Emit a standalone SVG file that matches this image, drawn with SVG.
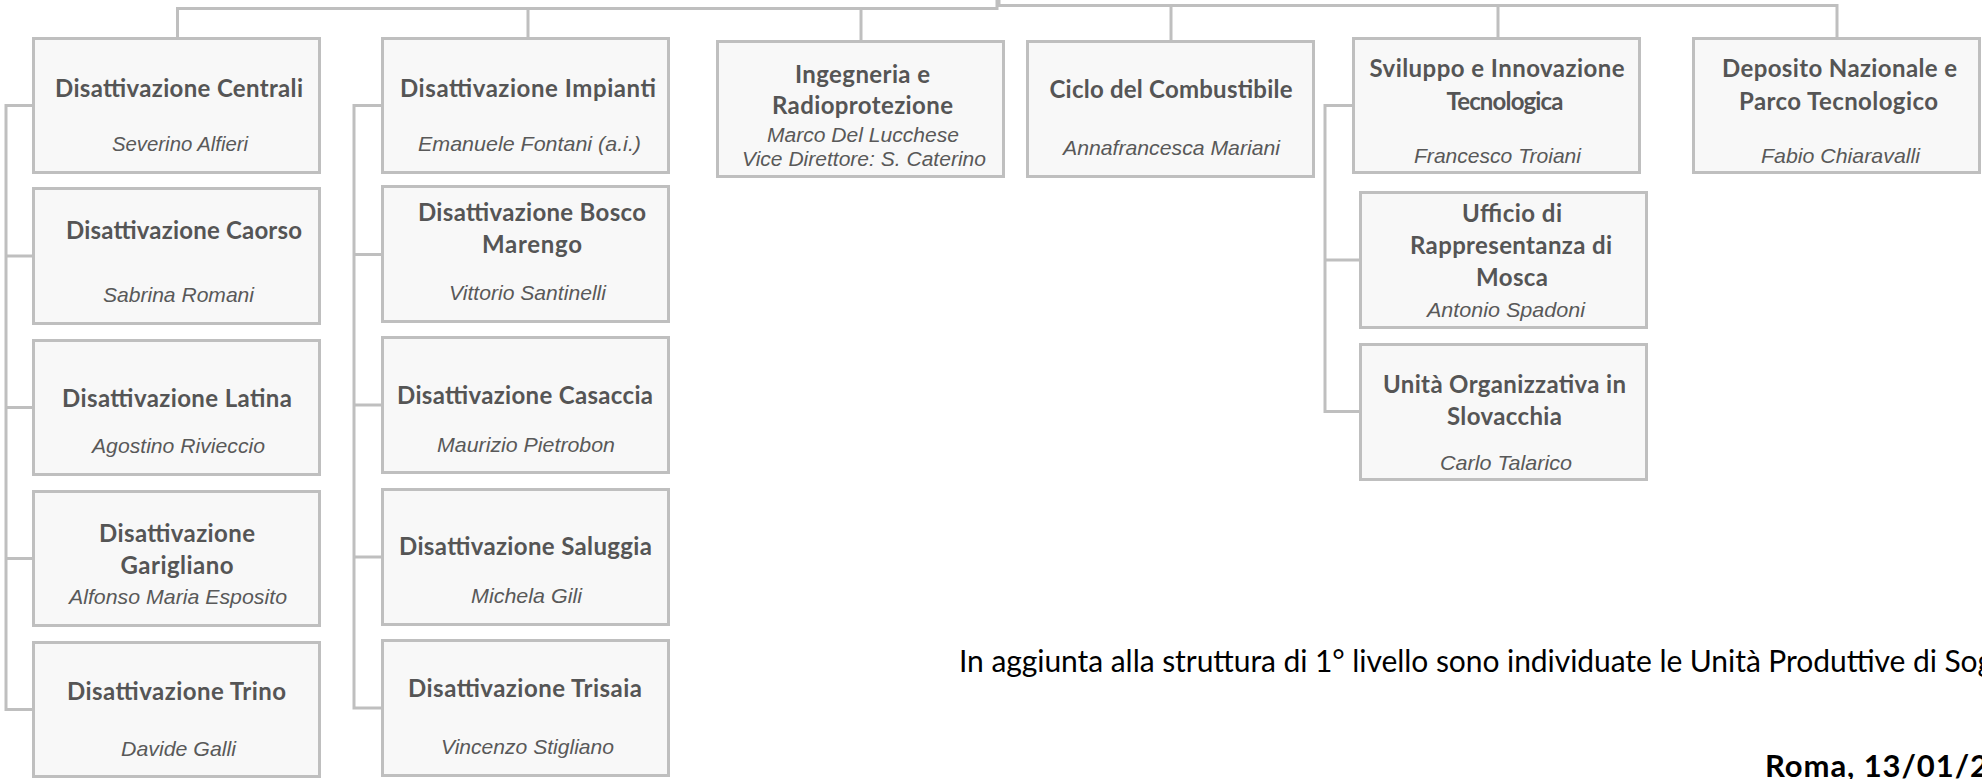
<svg xmlns="http://www.w3.org/2000/svg" width="1982" height="779" viewBox="0 0 1982 779">
<style>
.bg{fill:#ffffff}
.box{fill:#f8f8f8;stroke:#bfbfbf;stroke-width:3}
.conn{fill:none;stroke:#bfbfbf;stroke-width:3}
.t{font-family:Lato,"Liberation Sans",sans-serif;font-weight:bold;font-size:24px;fill:#555555;text-anchor:middle}
.n{font-family:"Liberation Sans",Arial,sans-serif;font-style:italic;font-size:21px;fill:#595959;text-anchor:middle}
.s{font-size:20px}
.body{font-family:Lato,"Liberation Sans",sans-serif;font-size:30px;fill:#000000}
.date{font-family:Lato,"Liberation Sans",sans-serif;font-weight:bold;font-size:31px;fill:#000000}
</style>
<rect class="bg" x="0" y="0" width="1982" height="779"/>
<g id="connectors">
<path class="conn" d="M997,0 V8.5 H177.5 V38"/>
<path class="conn" d="M528,8.5 V38"/>
<path class="conn" d="M861,8.5 V41"/>
<path class="conn" d="M999,0 V5.5 H1837 V38"/>
<path class="conn" d="M1171,5.5 V41"/>
<path class="conn" d="M1498,5.5 V38"/>
<path class="conn" d="M33,105.5 H6 V709.5 H33 M6,256 H33 M6,407.5 H33 M6,558.5 H33"/>
<path class="conn" d="M382,105.5 H354 V708 H382 M354,254.5 H382 M354,405 H382 M354,557 H382"/>
<path class="conn" d="M1353,105.5 H1325 V411.5 H1360 M1325,260 H1360"/>
</g>
<g id="n-centrali"><rect class="box" x="33.5" y="38.5" width="286" height="134"/>
<text class="t" x="179" y="97" textLength="248" lengthAdjust="spacing">Disattivazione Centrali</text>
<text class="n" x="180" y="151" textLength="136" lengthAdjust="spacingAndGlyphs">Severino Alfieri</text></g>
<g id="n-caorso"><rect class="box" x="33.5" y="188.5" width="286" height="135"/>
<text class="t" x="184" y="239" textLength="236" lengthAdjust="spacing">Disattivazione Caorso</text>
<text class="n" x="178.5" y="302" textLength="151" lengthAdjust="spacingAndGlyphs">Sabrina Romani</text></g>
<g id="n-latina"><rect class="box" x="33.5" y="340.5" width="286" height="134"/>
<text class="t" x="177" y="407" textLength="230" lengthAdjust="spacing">Disattivazione Latina</text>
<text class="n" x="178.5" y="453" textLength="173" lengthAdjust="spacingAndGlyphs">Agostino Rivieccio</text></g>
<g id="n-garigliano"><rect class="box" x="33.5" y="491.5" width="286" height="134"/>
<text class="t" x="177" y="542" textLength="156" lengthAdjust="spacing">Disattivazione</text>
<text class="t" x="177" y="574" textLength="113" lengthAdjust="spacing">Garigliano</text>
<text class="n" x="178" y="604" textLength="218" lengthAdjust="spacingAndGlyphs">Alfonso Maria Esposito</text></g>
<g id="n-trino"><rect class="box" x="33.5" y="642.5" width="286" height="134"/>
<text class="t" x="176.5" y="700" textLength="219" lengthAdjust="spacing">Disattivazione Trino</text>
<text class="n" x="178.5" y="756" textLength="115" lengthAdjust="spacingAndGlyphs">Davide Galli</text></g>
<g id="n-impianti"><rect class="box" x="382.5" y="38.5" width="286" height="134"/>
<text class="t" x="528" y="97" textLength="256" lengthAdjust="spacing">Disattivazione Impianti</text>
<text class="n" x="529.5" y="151" textLength="223" lengthAdjust="spacingAndGlyphs">Emanuele Fontani (a.i.)</text></g>
<g id="n-bosco"><rect class="box" x="382.5" y="186.5" width="286" height="135"/>
<text class="t" x="532" y="221" textLength="228" lengthAdjust="spacing">Disattivazione Bosco</text>
<text class="t" x="532" y="253" textLength="100" lengthAdjust="spacing">Marengo</text>
<text class="n" x="527.5" y="300" textLength="157" lengthAdjust="spacingAndGlyphs">Vittorio Santinelli</text></g>
<g id="n-casaccia"><rect class="box" x="382.5" y="337.5" width="286" height="135"/>
<text class="t" x="525" y="404" textLength="256" lengthAdjust="spacing">Disattivazione Casaccia</text>
<text class="n" x="526" y="452" textLength="178" lengthAdjust="spacingAndGlyphs">Maurizio Pietrobon</text></g>
<g id="n-saluggia"><rect class="box" x="382.5" y="489.5" width="286" height="135"/>
<text class="t" x="525.5" y="555" textLength="253" lengthAdjust="spacing">Disattivazione Saluggia</text>
<text class="n" x="526.5" y="603" textLength="111" lengthAdjust="spacingAndGlyphs">Michela Gili</text></g>
<g id="n-trisaia"><rect class="box" x="382.5" y="640.5" width="286" height="135"/>
<text class="t" x="525" y="697" textLength="234" lengthAdjust="spacing">Disattivazione Trisaia</text>
<text class="n" x="527.5" y="754" textLength="173" lengthAdjust="spacingAndGlyphs">Vincenzo Stigliano</text></g>
<g id="n-ingegneria"><rect class="box" x="717.5" y="41.5" width="286" height="135"/>
<text class="t" x="862.5" y="83" textLength="135" lengthAdjust="spacing">Ingegneria e</text>
<text class="t" x="862.5" y="114" textLength="181" lengthAdjust="spacing">Radioprotezione</text>
<text class="n s" x="863" y="142" textLength="192" lengthAdjust="spacingAndGlyphs">Marco Del Lucchese</text>
<text class="n s" x="864" y="166" textLength="244" lengthAdjust="spacingAndGlyphs">Vice Direttore: S. Caterino</text></g>
<g id="n-ciclo"><rect class="box" x="1027.5" y="41.5" width="286" height="135"/>
<text class="t" x="1171" y="98" textLength="243" lengthAdjust="spacing">Ciclo del Combustibile</text>
<text class="n" x="1171.5" y="155" textLength="217" lengthAdjust="spacingAndGlyphs">Annafrancesca Mariani</text></g>
<g id="n-sviluppo"><rect class="box" x="1353.5" y="38.5" width="286" height="134"/>
<text class="t" x="1497" y="77" textLength="255" lengthAdjust="spacing">Sviluppo e Innovazione</text>
<text class="t" x="1505" y="110" textLength="117" lengthAdjust="spacing">Tecnologica</text>
<text class="n" x="1497.5" y="163" textLength="167" lengthAdjust="spacingAndGlyphs">Francesco Troiani</text></g>
<g id="n-deposito"><rect class="box" x="1693.5" y="38.5" width="286" height="134"/>
<text class="t" x="1839.5" y="77" textLength="235" lengthAdjust="spacing">Deposito Nazionale e</text>
<text class="t" x="1838.5" y="110" textLength="199" lengthAdjust="spacing">Parco Tecnologico</text>
<text class="n" x="1840.5" y="163" textLength="159" lengthAdjust="spacingAndGlyphs">Fabio Chiaravalli</text></g>
<g id="n-ufficio"><rect class="box" x="1360.5" y="192.5" width="286" height="135"/>
<text class="t" x="1512" y="222" textLength="100" lengthAdjust="spacing">Ufficio di</text>
<text class="t" x="1511" y="254" textLength="202" lengthAdjust="spacing">Rappresentanza di</text>
<text class="t" x="1512" y="286" textLength="72" lengthAdjust="spacing">Mosca</text>
<text class="n" x="1506" y="317" textLength="158" lengthAdjust="spacingAndGlyphs">Antonio Spadoni</text></g>
<g id="n-unita"><rect class="box" x="1360.5" y="344.5" width="286" height="135"/>
<text class="t" x="1504.5" y="393" textLength="243" lengthAdjust="spacing">Unità Organizzativa in</text>
<text class="t" x="1504.5" y="425" textLength="115" lengthAdjust="spacing">Slovacchia</text>
<text class="n" x="1506" y="470" textLength="132" lengthAdjust="spacingAndGlyphs">Carlo Talarico</text></g>
<text class="body" x="959" y="672" textLength="1034" lengthAdjust="spacing">In aggiunta alla struttura di 1° livello sono individuate le Unità Produttive di Sog</text>
<text class="date" x="1765" y="777" textLength="223" lengthAdjust="spacing">Roma, 13/01/2</text>
</svg>
